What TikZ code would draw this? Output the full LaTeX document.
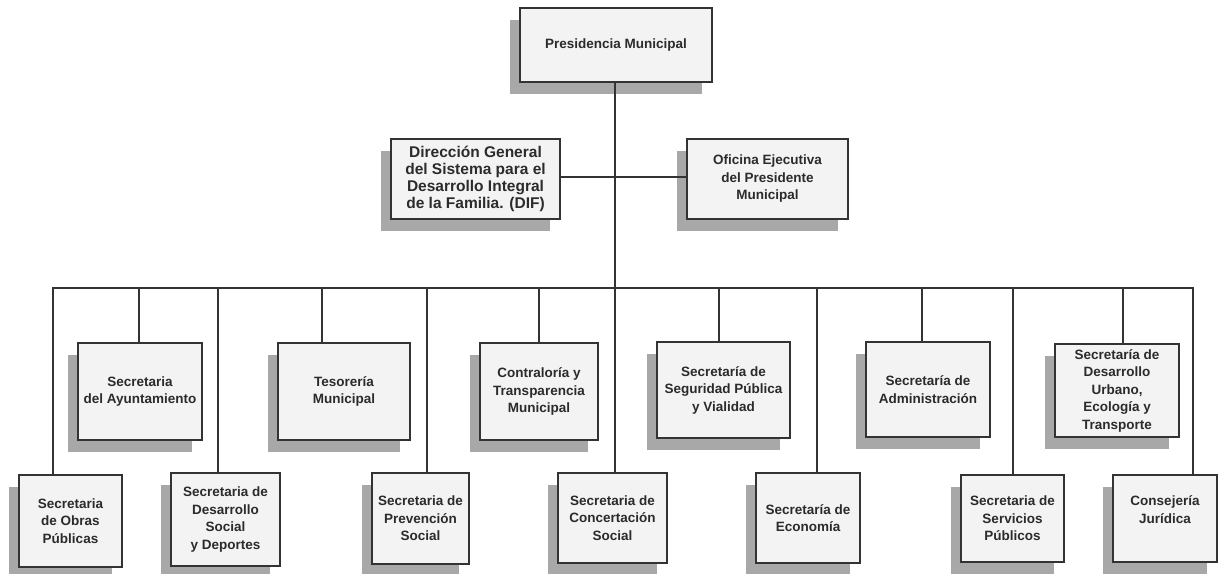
\documentclass[tikz,border=0pt]{standalone}
\usepackage{fontspec}
\setmainfont{Liberation Sans}
\usetikzlibrary{shadows}
\definecolor{boxfill}{HTML}{F3F3F3}
\definecolor{boxline}{HTML}{333333}
\definecolor{shade}{HTML}{A8A8A8}
\definecolor{ink}{HTML}{2B2B2B}
\tikzset{
  unit/.style={draw=boxline, line width=1.4pt, fill=boxfill, align=center,
    inner sep=0pt, text=ink, font=\fontsize{13.5}{17.5}\selectfont\bfseries,
    drop shadow={shadow xshift=-10pt, shadow yshift=-12pt, fill=shade, opacity=1}},
  bigtext/.style={font=\fontsize{15.5}{17}\selectfont\bfseries},
  link/.style={draw=boxline, line width=1.3pt}
}
\begin{document}
\begin{tikzpicture}[x=1pt,y=-1pt]
\useasboundingbox (0,0) rectangle (1218,573);

% top levels
\node[unit, minimum width=192pt, minimum height=74pt] (pres) at (616,45) {Presidencia Municipal};
\node[unit, bigtext, minimum width=169pt, minimum height=80pt] (dif) at (475.5,179) {Dirección General\\del Sistema para el\\Desarrollo Integral\\de la Familia. (DIF)};
\node[unit, minimum width=161pt, minimum height=80pt] (ofi) at (767.5,179) {Oficina Ejecutiva\\del Presidente\\Municipal};

% upper row
\node[unit, minimum width=124pt, minimum height=97pt] (ayu) at (140,391.5) {Secretaria\\del Ayuntamiento};
\node[unit, minimum width=132pt, minimum height=97pt] (tes) at (344,391.5) {Tesorería\\Municipal};
\node[unit, minimum width=118pt, minimum height=97pt] (con) at (539,391.5) {Contraloría y\\Transparencia\\Municipal};
\node[unit, minimum width=133pt, minimum height=96pt] (seg) at (723.5,390) {Secretaría de\\Seguridad Pública\\y Vialidad};
\node[unit, minimum width=124pt, minimum height=95pt] (adm) at (928,389.5) {Secretaría de\\Administración};
\node[unit, minimum width=124pt, minimum height=93pt] (urb) at (1117,390.5) {Secretaría de\\Desarrollo\\Urbano,\\Ecología y\\Transporte};

% lower row
\node[unit, minimum width=103pt, minimum height=92pt] (obr) at (70.5,521) {Secretaria\\de Obras\\Públicas};
\node[unit, minimum width=109pt, minimum height=93pt] (soc) at (225.5,519.5) {Secretaria de\\Desarrollo\\Social\\y Deportes};
\node[unit, minimum width=97pt, minimum height=91pt] (pre) at (420.5,518.5) {Secretaria de\\Prevención\\Social};
\node[unit, minimum width=109pt, minimum height=90pt] (conc) at (612.5,518) {Secretaria de\\Concertación\\Social};
\node[unit, minimum width=104pt, minimum height=90pt] (eco) at (808,518) {Secretaría de\\Economía};
\node[unit, minimum width=103pt, minimum height=87pt] (ser) at (1012.5,518.5) {Secretaria de\\Servicios\\Públicos};
\node[unit, minimum width=104pt, minimum height=87pt] (jur) at (1165,518.5) {Consejería\\Jurídica\\\mbox{}};

% bus coordinates
\coordinate (trunk) at (615,288);
\coordinate (busL) at (53,288);
\coordinate (busR) at (1193,288);
\coordinate (tAyu) at (139,288);
\coordinate (tTes) at (322,288);
\coordinate (tCon) at (539,288);
\coordinate (tSeg) at (719,288);
\coordinate (tAdm) at (922,288);
\coordinate (tUrb) at (1123,288);
\coordinate (tSoc) at (218,288);
\coordinate (tPre) at (427,288);
\coordinate (tEco) at (817,288);
\coordinate (tSer) at (1013,288);

% connectors
\draw[link] (pres.south -| trunk) -- (trunk) -- (trunk |- conc.north);
\draw[link] ([yshift=2pt]dif.east) -- ([yshift=2pt]ofi.west);
\draw[link] (busL |- obr.north) -- (busL) -- (busR) -- (busR |- jur.north);
\draw[link] (tAyu) -- (tAyu |- ayu.north);
\draw[link] (tTes) -- (tTes |- tes.north);
\draw[link] (tCon) -- (tCon |- con.north);
\draw[link] (tSeg) -- (tSeg |- seg.north);
\draw[link] (tAdm) -- (tAdm |- adm.north);
\draw[link] (tUrb) -- (tUrb |- urb.north);
\draw[link] (tSoc) -- (tSoc |- soc.north);
\draw[link] (tPre) -- (tPre |- pre.north);
\draw[link] (tEco) -- (tEco |- eco.north);
\draw[link] (tSer) -- (tSer |- ser.north);
\end{tikzpicture}
\end{document}
